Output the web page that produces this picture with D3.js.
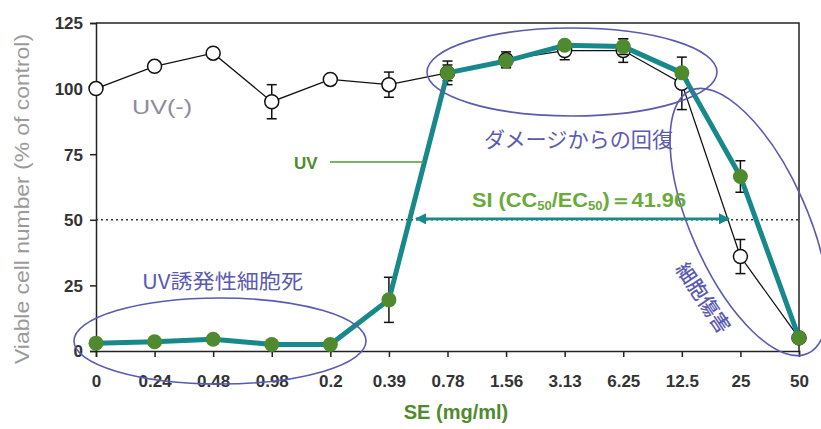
<!DOCTYPE html>
<html>
<head>
<meta charset="utf-8">
<script src="https://cdn.jsdelivr.net/npm/d3@7"></script>
<style>
  html, body { margin: 0; padding: 0; background: #fff; }
  svg { display: block; }
</style>
</head>
<body>
<svg id="chart" width="821" height="429"></svg>
<script>
// SE concentrations (mg/ml), shown as evenly spaced categories
const concentrations = ["0", "0.24", "0.48", "0.98", "0.2", "0.39", "0.78", "1.56", "3.13", "6.25", "12.5", "25", "50"];
// Viable cells (% of control) without UV irradiation
const uvMinus    = [100, 108.5, 113.5, 95, 103.5, 101.5, 106, 111, 114.5, 114.5, 102, 36, 5];
const uvMinusErr = [0, 0, 0, 6.5, 0, 4.8, 4.5, 3, 3.5, 4.5, 10, 6.5, 0];
// Viable cells (% of control) with UV irradiation
const uvPlus     = [3, 3.5, 4.5, 2.5, 2.5, 19.5, 106, 110.5, 116.5, 116, 106, 66.5, 5];
const uvPlusErr  = [0, 0, 0, 0, 0, 8.6, 3, 2.5, 0, 3, 0, 6, 0];
const yTicks = [0, 25, 50, 75, 100, 125];
const halfLevel = 50;
const siValue = "41.96";

const svg = d3.select("#chart");
const plotLeft = 96, plotRight = 799, plotTop = 23, plotBottom = 351;

const x = d3.scalePoint().domain(concentrations).range([plotLeft, plotRight]);
const y = d3.scaleLinear().domain([0, 125]).range([plotBottom, plotTop]);

const purple = "#5a5ab0";
const teal = "#17898a";
const green = "#4f8a2e";
const labelFont = "'Liberation Sans', Arial, sans-serif";
const jpFont = "'Noto Sans CJK JP', 'Noto Sans', sans-serif";

// frame (top and right edges)
svg.append("path")
  .attr("d", `M${plotLeft},${plotTop}H${plotRight}V${plotBottom}`)
  .attr("fill", "none").attr("stroke", "#222").attr("stroke-width", 1.5);

// y axis
const yAxis = svg.append("g").attr("transform", `translate(${plotLeft},0)`)
  .call(d3.axisLeft(y).tickValues(yTicks).tickSize(6).tickPadding(7));
// x axis
const xAxis = svg.append("g").attr("transform", `translate(0,${plotBottom})`)
  .call(d3.axisBottom(x).tickSize(6).tickPadding(18));
[yAxis, xAxis].forEach(g => {
  g.select(".domain").attr("stroke", "#222").attr("stroke-width", 1.5);
  g.selectAll(".tick line").attr("stroke", "#222").attr("stroke-width", 1.5);
  g.selectAll(".tick text")
    .attr("fill", "#333").attr("font-family", labelFont)
    .attr("font-size", 17).attr("font-weight", "bold");
});
yAxis.selectAll(".tick text").attr("dy", "0.35em");

// axis titles
svg.append("text")
  .attr("transform", `translate(29,${(plotTop + plotBottom) / 2 + 12}) rotate(-90)`)
  .attr("text-anchor", "middle")
  .attr("font-family", labelFont).attr("font-size", 20)
  .attr("textLength", 330).attr("lengthAdjust", "spacingAndGlyphs")
  .attr("fill", "#9a9a9a")
  .text("Viable cell number (% of control)");
svg.append("text")
  .attr("x", 456).attr("y", 419)
  .attr("text-anchor", "middle")
  .attr("font-family", labelFont).attr("font-size", 20).attr("font-weight", "bold")
  .attr("fill", green)
  .text("SE (mg/ml)");

// 50% reference line
svg.append("line")
  .attr("x1", plotLeft).attr("x2", plotRight)
  .attr("y1", y(halfLevel)).attr("y2", y(halfLevel))
  .attr("stroke", "#333").attr("stroke-width", 1.5).attr("stroke-dasharray", "2,3");

// error bars
function errorBars(values, errs) {
  const g = svg.append("g").attr("stroke", "#111").attr("stroke-width", 1.5);
  values.forEach((v, i) => {
    if (!errs[i]) return;
    const cx = x(concentrations[i]);
    g.append("line").attr("x1", cx).attr("x2", cx).attr("y1", y(v - errs[i])).attr("y2", y(v + errs[i]));
    [v - errs[i], v + errs[i]].forEach(e =>
      g.append("line").attr("x1", cx - 5).attr("x2", cx + 5).attr("y1", y(e)).attr("y2", y(e)));
  });
}

const line = d3.line().x((d, i) => x(concentrations[i])).y(d => y(d));

// UV(-) series
errorBars(uvMinus, uvMinusErr);
svg.append("path").datum(uvMinus).attr("d", line)
  .attr("fill", "none").attr("stroke", "#111").attr("stroke-width", 1.3);
svg.append("g").selectAll("circle").data(uvMinus).join("circle")
  .attr("cx", (d, i) => x(concentrations[i])).attr("cy", d => y(d)).attr("r", 7)
  .attr("fill", "#fff").attr("stroke", "#111").attr("stroke-width", 1.5);

// UV series
errorBars(uvPlus, uvPlusErr);
svg.append("path").datum(uvPlus).attr("d", line)
  .attr("fill", "none").attr("stroke", teal).attr("stroke-width", 5).attr("stroke-linejoin", "round");
svg.append("g").selectAll("circle").data(uvPlus).join("circle")
  .attr("cx", (d, i) => x(concentrations[i])).attr("cy", d => y(d)).attr("r", 7.5)
  .attr("fill", green);

// region ellipses
const ellipses = [
  { cx: 220, cy: 341, rx: 146, ry: 43, rot: 0 },
  { cx: 572, cy: 72, rx: 145, ry: 44, rot: 0 },
  { cx: 749, cy: 222, rx: 58, ry: 144, rot: -24 }
];
svg.append("g").selectAll("ellipse").data(ellipses).join("ellipse")
  .attr("transform", d => `translate(${d.cx},${d.cy}) rotate(${d.rot})`)
  .attr("rx", d => d.rx).attr("ry", d => d.ry)
  .attr("fill", "none").attr("stroke", purple).attr("stroke-width", 1.6);

// region labels
svg.append("text").attr("x", 142).attr("y", 289)
  .attr("font-family", jpFont).attr("font-size", 20).attr("fill", purple)
  .attr("textLength", 161).attr("lengthAdjust", "spacingAndGlyphs")
  .text("UV誘発性細胞死");
svg.append("text").attr("x", 484).attr("y", 147)
  .attr("font-family", jpFont).attr("font-size", 21).attr("fill", purple)
  .attr("textLength", 189).attr("lengthAdjust", "spacingAndGlyphs")
  .text("ダメージからの回復");
svg.append("text")
  .attr("transform", "translate(703,298) rotate(56)")
  .attr("text-anchor", "middle").attr("dy", "0.35em")
  .attr("font-family", jpFont).attr("font-size", 20).attr("font-weight", 500).attr("fill", purple)
  .text("細胞傷害");

// series labels
svg.append("text").attr("x", 132).attr("y", 114)
  .attr("font-family", labelFont).attr("font-size", 20).attr("fill", "#8c8c9c")
  .attr("textLength", 60).attr("lengthAdjust", "spacingAndGlyphs")
  .text("UV(-)");
svg.append("text").attr("x", 294).attr("y", 169)
  .attr("font-family", labelFont).attr("font-size", 17).attr("font-weight", "bold").attr("fill", green)
  .text("UV");
svg.append("line").attr("x1", 330).attr("x2", 424).attr("y1", 162).attr("y2", 162)
  .attr("stroke", "#4f9a3a").attr("stroke-width", 1.6);

// selectivity index arrow along the 50% level
const defs = svg.append("defs");
defs.append("marker").attr("id", "arrowHead")
  .attr("viewBox", "0 0 10 10").attr("refX", 9).attr("refY", 5)
  .attr("markerWidth", 4).attr("markerHeight", 4).attr("orient", "auto-start-reverse")
  .append("path").attr("d", "M0,0L10,5L0,10Z").attr("fill", teal);
svg.append("line")
  .attr("x1", 416).attr("x2", 729).attr("y1", y(halfLevel) - 1).attr("y2", y(halfLevel) - 1)
  .attr("stroke", teal).attr("stroke-width", 2.8)
  .attr("marker-start", "url(#arrowHead)").attr("marker-end", "url(#arrowHead)");

const si = svg.append("text").attr("x", 472).attr("y", 207)
  .attr("font-family", labelFont).attr("font-size", 20).attr("font-weight", "bold").attr("fill", "#6aaa3a")
  .attr("textLength", 214).attr("lengthAdjust", "spacingAndGlyphs");
si.append("tspan").text("SI (CC");
si.append("tspan").attr("font-size", 12).attr("dy", 3).text("50");
si.append("tspan").attr("dy", -3).text("/EC");
si.append("tspan").attr("font-size", 12).attr("dy", 3).text("50");
si.append("tspan").attr("dy", -3).text(")＝" + siValue);
</script>
</body>
</html>
